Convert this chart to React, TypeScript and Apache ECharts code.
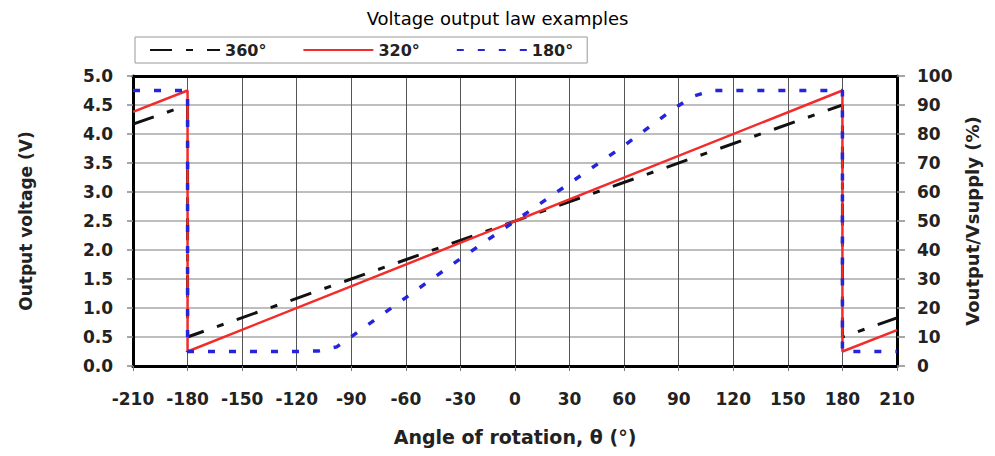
import React, { useEffect, useRef } from "react";
import * as echarts from "echarts";

const titleText = "Voltage output law examples";
const seriesNames = ["360°", "320°", "180°"];
const xTicks = { min: -210, max: 210, interval: 30 };
const leftTicks = { min: 0, max: 5, interval: 0.5 };
const rightTicks = { min: 0, max: 100, interval: 10 };

const angles360 = [-210, -180, -180, 180, 180, 210];
const volts360 = [4.17, 4.5, 0.5, 4.5, 0.5, 0.83];

const angles320 = [-210, -180, -180, 180, 180, 210];
const volts320 = [4.38, 4.75, 0.25, 4.75, 0.25, 0.62];

const angles180 = [-210, -180, -180, -120, -108, -98, -88, -60, -30, 0, 30, 60, 88, 98, 108, 180, 180, 210];
const volts180 = [4.75, 4.75, 0.25, 0.25, 0.26, 0.33, 0.55, 1.18, 1.85, 2.5, 3.15, 3.8, 4.45, 4.65, 4.75, 4.75, 0.25, 0.25];

const zip = (xs: number[], ys: number[]) => xs.map((x, i) => [x, ys[i]]);

const FONT = "DejaVu Sans";

export default function App() {
  const ref = useRef<HTMLDivElement>(null);
  useEffect(() => {
    if (!ref.current) return;
    const chart = echarts.init(ref.current, undefined, { renderer: "svg" });
    const labelStyle = { fontFamily: FONT, fontWeight: "bold", fontSize: 17, color: "#222" };
    const nameStyle = { fontFamily: FONT, fontWeight: "bold", fontSize: 18, color: "#222" };
    chart.setOption({
      animation: false,
      backgroundColor: "#fff",
      title: {
        text: titleText,
        left: "center",
        top: 4,
        textStyle: { fontFamily: FONT, fontWeight: "normal", fontSize: 18, color: "#000" },
      },
      legend: {
        data: seriesNames,
        left: 135,
        top: 37,
        padding: [5, 14],
        itemGap: 36,
        itemWidth: 70,
        itemHeight: 14,
        borderColor: "#999",
        borderWidth: 1,
        backgroundColor: "#fff",
        itemStyle: { opacity: 0 },
        textStyle: { fontFamily: FONT, fontWeight: "bold", fontSize: 16, color: "#222" },
      },
      grid: { left: 133, right: 98, top: 76, bottom: 90, containLabel: false },
      xAxis: [
        {
          type: "value",
          position: "bottom",
          min: xTicks.min,
          max: xTicks.max,
          interval: xTicks.interval,
          name: "Angle of rotation, θ (°)",
          nameLocation: "middle",
          nameGap: 61,
          nameTextStyle: { ...nameStyle, fontSize: 19 },
          axisLine: { show: true, onZero: false, lineStyle: { color: "#000", width: 3 } },
          axisTick: { show: true, length: 5, lineStyle: { color: "#777" } },
          axisLabel: { ...labelStyle, margin: 24 },
          splitLine: { show: true, lineStyle: { color: "#555", width: 1 } },
        },
        {
          type: "value",
          position: "top",
          min: xTicks.min,
          max: xTicks.max,
          interval: xTicks.interval,
          axisLine: { show: true, onZero: false, lineStyle: { color: "#000", width: 3 } },
          axisTick: { show: false },
          axisLabel: { show: false },
          splitLine: { show: false },
        },
      ],
      yAxis: [
        {
          type: "value",
          position: "left",
          min: leftTicks.min,
          max: leftTicks.max,
          interval: leftTicks.interval,
          name: "Output voltage (V)",
          nameLocation: "middle",
          nameRotate: 90,
          nameGap: 99,
          nameTextStyle: { ...nameStyle, fontSize: 17 },
          axisLine: { show: true, onZero: false, lineStyle: { color: "#000", width: 3 } },
          axisTick: { show: true, length: 6, lineStyle: { color: "#888", width: 1.5 } },
          axisLabel: { ...labelStyle, margin: 20, formatter: (v: number) => v.toFixed(1) },
          splitLine: { show: true, lineStyle: { color: "#a8a8a8", width: 1.5 } },
        },
        {
          type: "value",
          position: "right",
          min: rightTicks.min,
          max: rightTicks.max,
          interval: rightTicks.interval,
          name: "Voutput/Vsupply (%)",
          nameLocation: "middle",
          nameRotate: 90,
          nameGap: 52,
          nameTextStyle: nameStyle,
          axisLine: { show: true, onZero: false, lineStyle: { color: "#000", width: 3 } },
          axisTick: { show: true, length: 8, lineStyle: { color: "#888", width: 1.5 } },
          axisLabel: { ...labelStyle, margin: 20 },
          splitLine: { show: false },
        },
      ],
      series: [
        {
          name: seriesNames[0],
          type: "line",
          xAxisIndex: 0,
          yAxisIndex: 0,
          symbol: "none",
          data: zip(angles360, volts360),
          lineStyle: { color: "#111", width: 3, type: [22, 14, 7, 14] },
          itemStyle: { color: "#111" },
        },
        {
          name: seriesNames[1],
          type: "line",
          xAxisIndex: 0,
          yAxisIndex: 0,
          symbol: "none",
          data: zip(angles320, volts320),
          lineStyle: { color: "#f22b2b", width: 2.5, type: "solid" },
          itemStyle: { color: "#f22b2b" },
        },
        {
          name: seriesNames[2],
          type: "line",
          xAxisIndex: 0,
          yAxisIndex: 0,
          symbol: "none",
          data: zip(angles180, volts180),
          lineStyle: { color: "#2424dc", width: 3.5, type: [7, 14] },
          itemStyle: { color: "#2424dc" },
        },
      ],
    });
    return () => chart.dispose();
  }, []);
  return (
    <div
      ref={ref}
      style={{ position: "absolute", left: 0, top: 0, width: 995, height: 456 }}
    />
  );
}
